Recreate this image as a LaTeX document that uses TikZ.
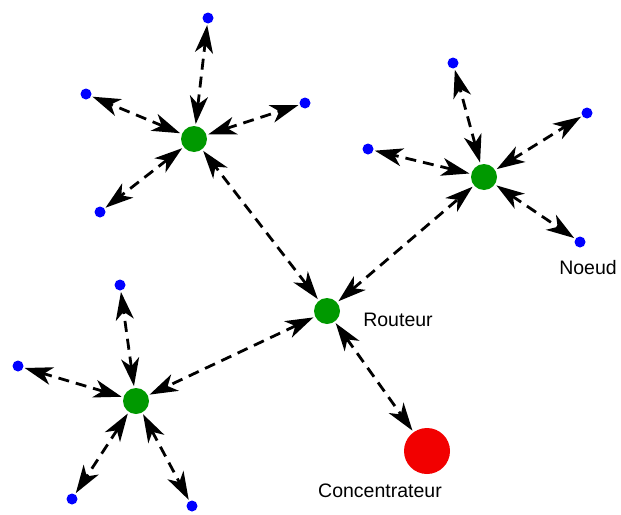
\documentclass[tikz,border=0pt]{standalone}
\usepackage{fontspec}
\setmainfont{Liberation Sans}
\usetikzlibrary{arrows.meta}
\begin{document}
\begin{tikzpicture}[
  x=1pt, y=-1pt,
  font=\fontsize{19.5}{23}\selectfont,
  router/.style={circle, fill=green!60!black, inner sep=0pt, minimum size=26pt, outer sep=2pt},
  noeud/.style={circle, fill=blue, inner sep=0pt, minimum size=11pt, outer sep=1.5pt},
  hub/.style={circle, fill=red!95!black, inner sep=0pt, minimum size=46pt, outer sep=2pt},
  arrow/.style={{Stealth[length=28pt,width=18pt,inset=8pt]}-{Stealth[length=28pt,width=18pt,inset=8pt]}, line width=2.8pt, dash pattern=on 11pt off 7pt}
]
\useasboundingbox (0,0) rectangle (621,514);

\node[router] (r1) at (194,139) {};
\node[router] (r2) at (484,177) {};
\node[router] (r0) at (327,311) {};
\node[router] (r3) at (136,401) {};
\node[hub] (c) at (427,451) {};

\node[noeud] (n11) at (208,18) {};
\node[noeud] (n12) at (86,94) {};
\node[noeud] (n13) at (305,103) {};
\node[noeud] (n14) at (100,212) {};

\node[noeud] (n21) at (453,63) {};
\node[noeud] (n22) at (368,149) {};
\node[noeud] (n23) at (587,113) {};
\node[noeud] (n24) at (580,242) {};

\node[noeud] (n31) at (120,285) {};
\node[noeud] (n32) at (18,366) {};
\node[noeud] (n33) at (72,499) {};
\node[noeud] (n34) at (192,506) {};

\node (lr) at (398,320) {Routeur};
\node (ln) at (588,268) {Noeud};
\node (lc) at (380,491) {Concentrateur};

\draw[arrow] (r0) -- (r1);
\draw[arrow] (r0) -- (r2);
\draw[arrow] (r0) -- (r3);
\draw[arrow] (r0) -- (c);

\draw[arrow] (r1) -- (n11);
\draw[arrow] (r1) -- (n12);
\draw[arrow] (r1) -- (n13);
\draw[arrow] (r1) -- (n14);

\draw[arrow] (r2) -- (n21);
\draw[arrow] (r2) -- (n22);
\draw[arrow] (r2) -- (n23);
\draw[arrow] (r2) -- (n24);

\draw[arrow] (r3) -- (n31);
\draw[arrow] (r3) -- (n32);
\draw[arrow] (r3) -- (n33);
\draw[arrow] (r3) -- (n34);
\end{tikzpicture}
\end{document}
